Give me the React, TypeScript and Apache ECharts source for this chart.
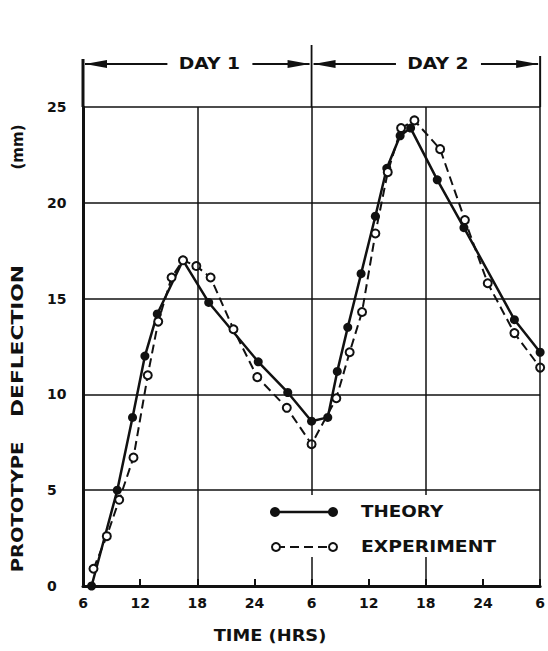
import React, { useEffect, useRef } from "react";
import * as echarts from "echarts";

// Time in hours from 06:00 of day 1 (6..54), deflection in mm
const theoryHours = [6.9, 9.6, 11.2, 12.5, 13.8, 16.5, 19.2, 24.4, 27.5, 30.0, 31.7, 32.7, 33.8, 35.2, 36.7, 37.9, 39.3, 40.4, 43.2, 46.0, 51.3, 54.0];
const theoryMm = [0.0, 5.0, 8.8, 12.0, 14.2, 17.0, 14.8, 11.7, 10.1, 8.6, 8.8, 11.2, 13.5, 16.3, 19.3, 21.8, 23.5, 23.9, 21.2, 18.7, 13.9, 12.2];

const experimentHours = [7.1, 8.5, 9.8, 11.3, 12.8, 13.9, 15.3, 16.5, 17.9, 19.4, 21.8, 24.3, 27.4, 30.0, 32.6, 34.0, 35.3, 36.7, 38.0, 39.4, 40.8, 43.5, 46.1, 48.5, 51.3, 54.0];
const experimentMm = [0.9, 2.6, 4.5, 6.7, 11.0, 13.8, 16.1, 17.0, 16.7, 16.1, 13.4, 10.9, 9.3, 7.4, 9.8, 12.2, 14.3, 18.4, 21.6, 23.9, 24.3, 22.8, 19.1, 15.8, 13.2, 11.4];

const gridHours = [18, 30, 42, 54];
const dayLabels = ["DAY 1", "DAY 2"];
const dayBounds = [6, 30, 54];
const yTitleWords = ["PROTOTYPE", "DEFLECTION", "(mm)"];
const xTitle = "TIME (HRS)";
const seriesNames = ["THEORY", "EXPERIMENT"];

const INK = "#111";
const FONT = "DejaVu Sans";

export default function App() {
  const ref = useRef<HTMLDivElement>(null);

  useEffect(() => {
    const chart = echarts.init(ref.current!, null, { renderer: "svg" });
    const labelStyle = { color: INK, fontFamily: FONT, fontWeight: "bold" as const, fontSize: 14 };

    chart.setOption({
      animation: false,
      backgroundColor: "#fff",
      grid: { left: 83, right: 5.5, top: 107, bottom: 65, containLabel: false },
      xAxis: {
        type: "value",
        min: 6,
        max: 54,
        interval: 6,
        axisLine: { show: true, lineStyle: { color: INK, width: 3 } },
        axisTick: { show: true, inside: true, length: 7, lineStyle: { color: INK, width: 2 } },
        splitLine: { show: false },
        axisLabel: {
          ...labelStyle,
          margin: 10,
          showMinLabel: true,
          showMaxLabel: true,
          formatter: (v: number) => String(v % 24 === 0 ? 24 : v % 24),
        },
      },
      yAxis: {
        type: "value",
        min: 0,
        max: 25,
        interval: 5,
        axisLine: { show: true, onZero: false, lineStyle: { color: INK, width: 3 } },
        axisTick: { show: false },
        splitLine: { show: true, lineStyle: { color: INK, width: 1.5 } },
        axisLabel: { ...labelStyle, align: "left", margin: 36 },
      },
      series: [
        {
          name: seriesNames[0],
          type: "line",
          data: theoryHours.map((h, i) => [h, theoryMm[i]]),
          symbol: "circle",
          symbolSize: 9,
          lineStyle: { color: INK, width: 2.5 },
          itemStyle: { color: INK },
          z: 3,
          markLine: {
            silent: true,
            symbol: ["none", "none"],
            label: { show: false },
            lineStyle: { color: INK, width: 1.5, type: "solid" },
            data: gridHours.map((h) => ({ xAxis: h })),
          },
        },
        {
          name: seriesNames[1],
          type: "line",
          data: experimentHours.map((h, i) => [h, experimentMm[i]]),
          symbol: "circle",
          symbolSize: 8,
          lineStyle: { color: INK, width: 2, type: [9, 5] },
          itemStyle: { color: "#fff", borderColor: INK, borderWidth: 2 },
          z: 4,
        },
      ],
    });

    const px = (h: number, v: number) => chart.convertToPixel({ gridIndex: 0 }, [h, v]) as number[];
    const xb = dayBounds.map((h) => px(h, 25)[0]);
    const top = px(6, 25)[1];
    const bracketY = top - 43;
    const g: any[] = [];
    const Z = 100;

    // vertical extensions above the plot
    g.push({ type: "line", z: Z, shape: { x1: xb[0], y1: top - 48, x2: xb[0], y2: top }, style: { stroke: INK, lineWidth: 3 } });
    g.push({ type: "line", z: Z, shape: { x1: xb[1], y1: top - 62, x2: xb[1], y2: top }, style: { stroke: INK, lineWidth: 1.8 } });
    g.push({ type: "line", z: Z, shape: { x1: xb[2], y1: top - 51, x2: xb[2], y2: top }, style: { stroke: INK, lineWidth: 2 } });

    const head = (tip: number, dir: number) => ({
      type: "polygon",
      z: Z,
      shape: { points: [[tip, bracketY], [tip + dir * 22, bracketY - 4], [tip + dir * 22, bracketY + 4]] },
      style: { fill: INK },
    });

    dayLabels.forEach((lab, i) => {
      const a = xb[i];
      const b = xb[i + 1];
      const c = a + 0.553 * (b - a);
      g.push({ type: "line", z: Z, shape: { x1: a + 2, y1: bracketY, x2: c - 42, y2: bracketY }, style: { stroke: INK, lineWidth: 2 } });
      g.push({ type: "line", z: Z, shape: { x1: c + 43, y1: bracketY, x2: b - 2, y2: bracketY }, style: { stroke: INK, lineWidth: 2 } });
      g.push(head(a + 2, 1));
      g.push(head(b - 2, -1));
      g.push({
        type: "text",
        z: Z,
        x: c,
        y: bracketY,
        scaleX: 1.25,
        style: { text: lab, fill: INK, font: `bold 15px '${FONT}'`, textAlign: "center", textVerticalAlign: "middle" },
      });
    });

    // y axis title
    const yCenters = [507, 341, 147];
    const yScales = [1.3, 1.45, 1.0];
    yTitleWords.forEach((w, i) => {
      g.push({
        type: "text",
        z: Z,
        x: 18,
        y: yCenters[i],
        rotation: Math.PI / 2,
        scaleX: yScales[i],
        style: { text: w, fill: INK, font: `bold 15px '${FONT}'`, textAlign: "center", textVerticalAlign: "middle" },
      });
    });

    // x axis title
    g.push({
      type: "text",
      z: Z,
      x: 270,
      y: 636,
      scaleX: 1.19,
      style: { text: xTitle, fill: INK, font: `bold 15px '${FONT}'`, textAlign: "center", textVerticalAlign: "middle" },
    });

    // legend
    g.push({ type: "rect", z: Z, shape: { x: 262, y: 495, width: 240, height: 62 }, style: { fill: "#fff" } });
    g.push({ type: "line", z: Z + 1, shape: { x1: 275, y1: 512, x2: 333, y2: 512 }, style: { stroke: INK, lineWidth: 2.5 } });
    g.push({ type: "circle", z: Z + 2, shape: { cx: 275, cy: 512, r: 5 }, style: { fill: INK } });
    g.push({ type: "circle", z: Z + 2, shape: { cx: 333, cy: 512, r: 5 }, style: { fill: INK } });
    g.push({ type: "line", z: Z + 1, shape: { x1: 276, y1: 547, x2: 333, y2: 547 }, style: { stroke: INK, lineWidth: 2, lineDash: [9, 5] } });
    g.push({ type: "circle", z: Z + 2, shape: { cx: 276, cy: 547, r: 4 }, style: { fill: "#fff", stroke: INK, lineWidth: 2 } });
    g.push({ type: "circle", z: Z + 2, shape: { cx: 333, cy: 547, r: 4 }, style: { fill: "#fff", stroke: INK, lineWidth: 2 } });
    const legendTextY = [512, 547];
    const legendScale = [1.22, 1.25];
    seriesNames.forEach((n, i) => {
      g.push({
        type: "text",
        z: Z + 2,
        x: 361,
        y: legendTextY[i],
        scaleX: legendScale[i],
        style: { text: n, fill: INK, font: `bold 15px '${FONT}'`, textAlign: "left", textVerticalAlign: "middle" },
      });
    });

    chart.setOption({ graphic: { elements: g } });

    return () => chart.dispose();
  }, []);

  return <div ref={ref} style={{ position: "fixed", left: 0, top: 0, width: 548, height: 651 }} />;
}
